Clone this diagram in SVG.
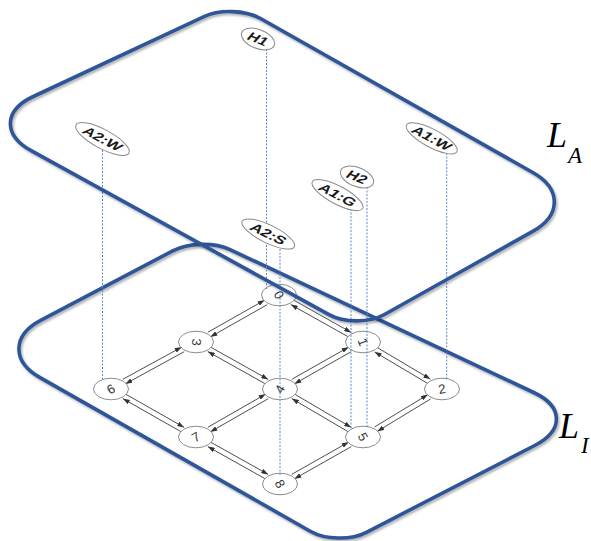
<svg xmlns="http://www.w3.org/2000/svg" width="591" height="541" viewBox="0 0 591 541">
  <defs>
    <marker id="ah" viewBox="0 0 10 7" refX="10" refY="3.5" markerWidth="7" markerHeight="4.9" markerUnits="userSpaceOnUse" orient="auto">
      <path d="M0,0 L10,3.5 L0,7 z" fill="#333"/>
    </marker>
    <filter id="shadow" x="-5%" y="-5%" width="112%" height="115%">
      <feDropShadow dx="1.5" dy="2" stdDeviation="1.2" flood-color="#000" flood-opacity="0.3"/>
    </filter>
  </defs>
  <style>
    .plane{fill:none;stroke:#2f5597;stroke-width:3.6;stroke-linejoin:round;filter:url(#shadow)}
    .edge{stroke:#3a3a3a;stroke-width:0.9;marker-end:url(#ah)}
    .node ellipse{fill:#fff;stroke:#8c8c8c;stroke-width:1}
    .node text{font-family:"Liberation Sans",Arial,sans-serif;font-size:13px;fill:#333;text-anchor:middle;dominant-baseline:central}
    .proj{stroke:#5b8bd0;stroke-width:1;stroke-dasharray:2 1.5;fill:none}
    .tag ellipse{fill:#fff;stroke:#8a8a8a;stroke-width:1}
    .tag text{font-family:"Liberation Sans",Arial,sans-serif;font-weight:bold;font-size:12.5px;fill:#1a1a1a;text-anchor:middle;dominant-baseline:central}
    .layer{font-family:"Liberation Serif","Times New Roman",serif;font-style:italic;fill:#000}
  </style>

  <!-- lower plane L_I -->
  <path id="plane-LI" class="plane" d="M41.1,320.1 L172.7,250.9 C188.3,242.7 214,242.1 230,249.6 L533.7,392.5 C563.6,406.5 564,430.4 534.7,445.5 L366.4,532.3 C350.8,540.4 325.5,539.9 310.2,531.2 L40.1,377.6 C11.5,361.3 11.9,335.4 41.1,320.1 Z"/>

  <!-- grid connectors: one arrow per direction -->
  <g id="connectors">
    <line class="edge" x1="293.4" y1="300" x2="351.2" y2="332.4"/>
    <line class="edge" x1="348.6" y1="337" x2="290.8" y2="304.6"/>
    <line class="edge" x1="377.2" y1="347.5" x2="430.4" y2="379.1"/>
    <line class="edge" x1="427.8" y1="383.5" x2="374.6" y2="351.9"/>
    <line class="edge" x1="267.2" y1="304.7" x2="210.3" y2="336.9"/>
    <line class="edge" x1="207.8" y1="332.3" x2="264.7" y2="300.1"/>
    <line class="edge" x1="184.2" y1="351.7" x2="125.3" y2="383.9"/>
    <line class="edge" x1="122.8" y1="379.3" x2="181.7" y2="347.1"/>
    <line class="edge" x1="351.2" y1="351.7" x2="294.3" y2="383.9"/>
    <line class="edge" x1="291.8" y1="379.3" x2="348.7" y2="347.1"/>
    <line class="edge" x1="268.2" y1="398.7" x2="210.3" y2="431.9"/>
    <line class="edge" x1="207.8" y1="427.3" x2="265.7" y2="394.1"/>
    <line class="edge" x1="430.6" y1="399" x2="377.2" y2="431.4"/>
    <line class="edge" x1="374.5" y1="427" x2="427.9" y2="394.6"/>
    <line class="edge" x1="351.2" y1="446.7" x2="294.3" y2="478.9"/>
    <line class="edge" x1="291.8" y1="474.3" x2="348.7" y2="442.1"/>
    <line class="edge" x1="210.4" y1="347" x2="268.2" y2="379.4"/>
    <line class="edge" x1="265.6" y1="384" x2="207.8" y2="351.6"/>
    <line class="edge" x1="294.4" y1="394" x2="351.2" y2="427.4"/>
    <line class="edge" x1="348.6" y1="432" x2="291.8" y2="398.6"/>
    <line class="edge" x1="125.4" y1="394" x2="184.2" y2="427.4"/>
    <line class="edge" x1="181.6" y1="432" x2="122.8" y2="398.6"/>
    <line class="edge" x1="210.4" y1="442" x2="268.2" y2="474.4"/>
    <line class="edge" x1="265.6" y1="479" x2="207.8" y2="446.6"/>
  </g>

  <!-- grid cells -->
  <g id="n0" class="node"><ellipse cx="279" cy="295" rx="17.5" ry="10.8"/><text transform="translate(279,295) rotate(60)">0</text></g>
  <g id="n1" class="node"><ellipse cx="363" cy="342" rx="17.5" ry="10.8"/><text transform="translate(363,342) rotate(70)">1</text></g>
  <g id="n2" class="node"><ellipse cx="442" cy="389" rx="17.5" ry="10.8"/><text transform="translate(442,389) rotate(-10)">2</text></g>
  <g id="n3" class="node"><ellipse cx="196" cy="342" rx="17.5" ry="10.8"/><text transform="translate(196,342) rotate(90)">3</text></g>
  <g id="n4" class="node"><ellipse cx="280" cy="389" rx="17.5" ry="10.8"/><text transform="translate(280,389) rotate(-60)">4</text></g>
  <g id="n5" class="node"><ellipse cx="363" cy="437" rx="17.5" ry="10.8"/><text transform="translate(363,437) rotate(60)">5</text></g>
  <g id="n6" class="node"><ellipse cx="111" cy="389" rx="17.5" ry="10.8"/><text transform="translate(111,389) rotate(-30)">6</text></g>
  <g id="n7" class="node"><ellipse cx="196" cy="437" rx="17.5" ry="10.8"/><text transform="translate(196,437) rotate(-30)">7</text></g>
  <g id="n8" class="node"><ellipse cx="280" cy="484" rx="17.5" ry="10.8"/><text transform="translate(280,484) rotate(60)">8</text></g>

  <!-- vertical projections from L_A tags down to cells -->
  <g id="projections">
    <line class="proj" x1="266.5" y1="49" x2="266.5" y2="290"/>
    <line class="proj" x1="102.5" y1="150" x2="102.5" y2="380"/>
    <line class="proj" x1="446.7" y1="153" x2="446.7" y2="379"/>
    <line class="proj" x1="351" y1="209" x2="351" y2="430"/>
    <line class="proj" x1="367" y1="187" x2="367" y2="427"/>
    <line class="proj" x1="280" y1="249" x2="280" y2="475"/>
  </g>

  <!-- upper plane L_A -->
  <path id="plane-LA" class="plane" d="M33.3,96.5 L204,16.6 C220,9.1 245.5,10.1 260.9,18.7 L532.8,172.5 C561.5,188.7 561.5,215.2 532.7,231.4 L384.9,314.3 C369.6,323 344.4,323.1 329,314.6 L31.6,150.9 C2.7,135 3.4,110.5 33.3,96.5 Z"/>

  <!-- tags on L_A -->
  <g id="tag-H1" class="tag"><ellipse transform="translate(258,39) rotate(22)" rx="17.5" ry="9.5"/><text transform="translate(258,39) rotate(22) scale(1.25,1) skewX(-15)">H1</text></g>
  <g id="tag-H2" class="tag"><ellipse transform="translate(357,177) rotate(22)" rx="17.5" ry="9.5"/><text transform="translate(357,177) rotate(22) scale(1.25,1) skewX(-15)">H2</text></g>
  <g id="tag-A2W" class="tag"><ellipse transform="translate(102.5,139) rotate(28)" rx="30" ry="9.5"/><text transform="translate(102.5,139) rotate(28) scale(1.3,1) skewX(-15)">A2:W</text></g>
  <g id="tag-A1W" class="tag"><ellipse transform="translate(431.7,138.3) rotate(28)" rx="28.5" ry="9"/><text transform="translate(431.7,138.3) rotate(28) scale(1.3,1) skewX(-15)">A1:W</text></g>
  <g id="tag-A1G" class="tag"><ellipse transform="translate(337.5,195) rotate(28)" rx="28.5" ry="9"/><text transform="translate(337.5,195) rotate(28) scale(1.3,1) skewX(-15)">A1:G</text></g>
  <g id="tag-A2S" class="tag"><ellipse transform="translate(268.3,234) rotate(26)" rx="29" ry="9"/><text transform="translate(268.3,234) rotate(26) scale(1.3,1) skewX(-15)">A2:S</text></g>

  <!-- layer names -->
  <text class="layer" x="547" y="147" font-size="36">L</text>
  <text class="layer" x="568" y="163" font-size="23">A</text>
  <text class="layer" x="559" y="438" font-size="36">L</text>
  <text class="layer" x="581" y="453" font-size="23">I</text>
</svg>
